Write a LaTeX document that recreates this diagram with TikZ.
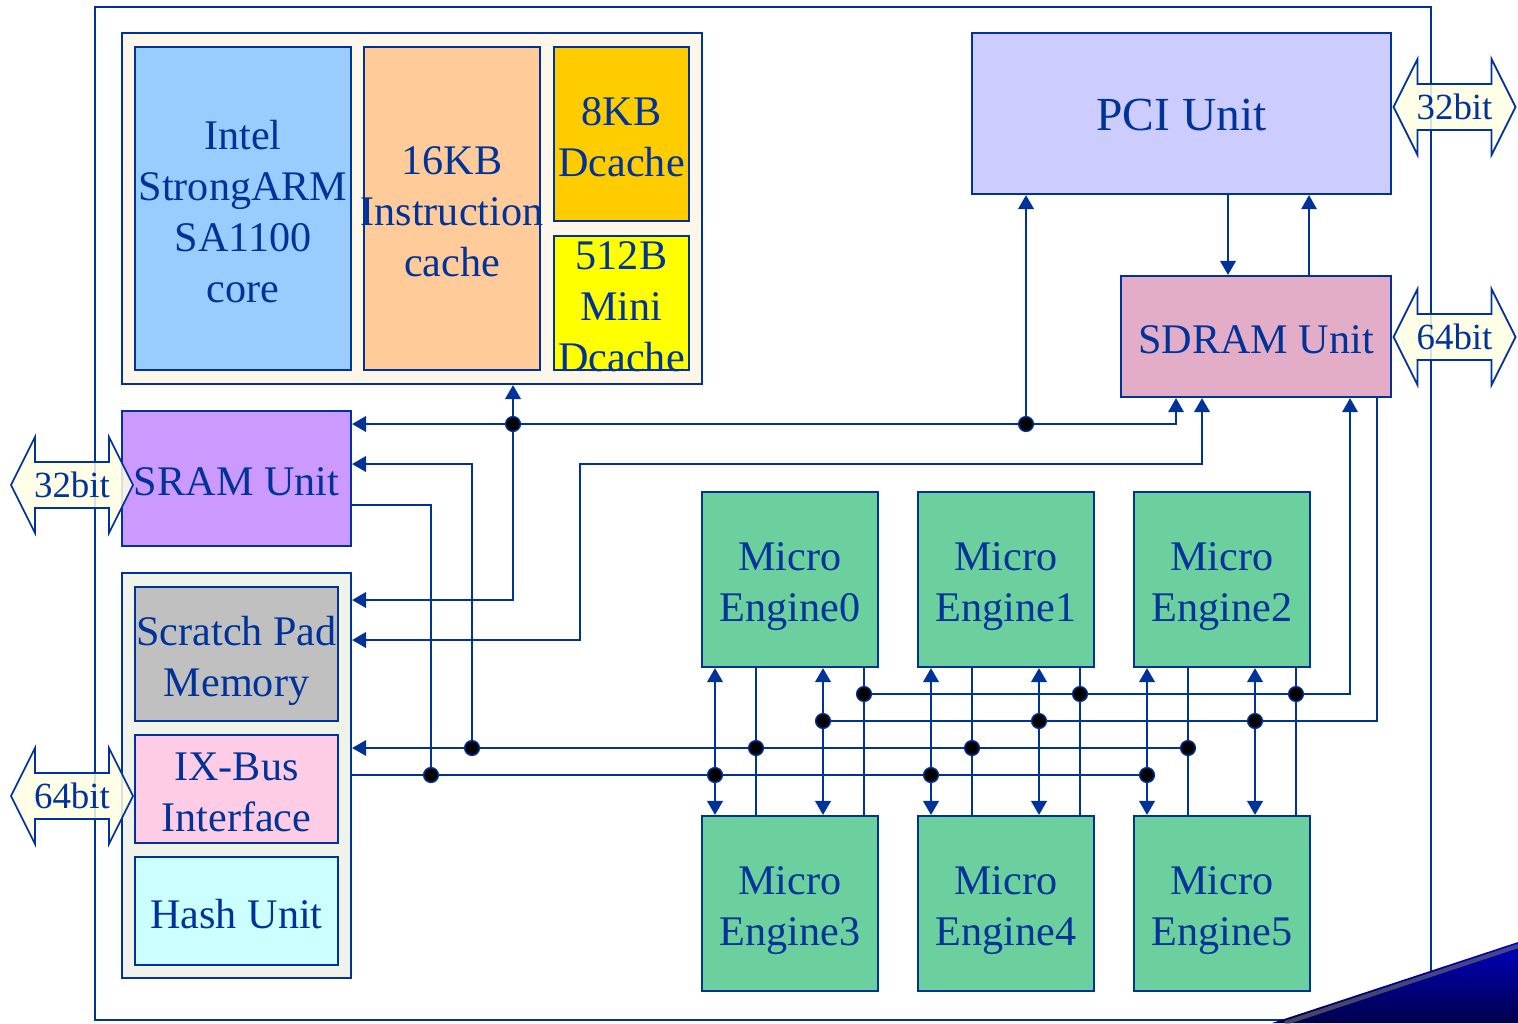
\documentclass[tikz,border=0pt]{standalone}
\usepackage{xcolor}
\usepackage{fontspec}
\setmainfont{Liberation Serif}
\usepackage{tikz}
\usetikzlibrary{arrows.meta}

\definecolor{ixpblue}{RGB}{0,51,153}
\definecolor{corebg}{RGB}{255,246,234}
\definecolor{armcol}{RGB}{153,204,255}
\definecolor{icachecol}{RGB}{255,204,153}
\definecolor{dcachecol}{RGB}{255,204,0}
\definecolor{minicol}{RGB}{255,255,0}
\definecolor{pcicol}{RGB}{204,204,255}
\definecolor{sdramcol}{RGB}{227,172,199}
\definecolor{sramcol}{RGB}{204,153,255}
\definecolor{lowbg}{RGB}{240,243,234}
\definecolor{scratchcol}{RGB}{192,192,192}
\definecolor{ixcol}{RGB}{255,204,230}
\definecolor{hashcol}{RGB}{204,255,255}
\definecolor{mecol}{RGB}{108,207,158}
\definecolor{arrowcol}{RGB}{255,255,228}

\newcommand{\firstline}[1]{\rule{0pt}{#1}}

\begin{document}
\begin{tikzpicture}[x=0.1mm, y=-0.1mm,
    >={Triangle[length=4pt,width=4.4pt]},
    unit/.style={draw=ixpblue, line width=0.6pt, inner sep=0pt, align=center,
        text=ixpblue, font=\fontsize{12}{14.5}\selectfont,
        execute at begin node={\rule{0pt}{9.8pt}}},
    data/.style={draw=ixpblue, line width=0.75pt},
    ctrl/.style={draw=ixpblue, line width=0.45pt},
    bus/.style={draw=ixpblue, line width=0.55pt},
    junction/.style={fill=black, draw=ixpblue, line width=0.4pt},
    widearrow/.style={draw=ixpblue, line width=0.5pt, fill=arrowcol, fill opacity=0.85},
    bitlabel/.style={text=ixpblue, font=\fontsize{10.5}{12}\selectfont}]
    \useasboundingbox (0,0) rectangle (1518,1023);
    \draw[ixpblue, line width=0.45pt] (95,7) rectangle (1431,1020);

    % StrongARM core with its caches
    \node[unit, fill=corebg, minimum width=5.80cm, minimum height=3.51cm] (cpu) at (412,208.5) {};
    \node[unit, fill=armcol, minimum width=2.16cm, minimum height=3.23cm] (arm) at (243,208.5)
        {\firstline{9.9pt}Intel\\StrongARM\\SA1100\\core};
    \node[unit, fill=icachecol, minimum width=1.76cm, minimum height=3.23cm, inner xsep=-4pt] (icache)
        at (452,208.5) {\firstline{9.9pt}16KB\\Instruction\\cache};
    \node[unit, fill=dcachecol, minimum width=1.35cm, minimum height=1.74cm] (dcache) at (621.5,134)
        {\firstline{9.6pt}8KB\\Dcache};
    \node[unit, fill=minicol, minimum width=1.35cm, minimum height=1.34cm, inner ysep=-8pt] (minid)
        at (621.5,303) {\firstline{9.9pt}512B\\Mini\\Dcache};

    \node[unit, fill=pcicol, minimum width=4.19cm, minimum height=1.61cm,
        font=\fontsize{13.5}{16}\selectfont] (pci) at (1181.5,113.5) {PCI Unit};
    \node[unit, fill=sdramcol, minimum width=2.70cm, minimum height=1.21cm] (sdram) at (1256,336.5)
        {SDRAM Unit};
    \node[unit, fill=sramcol, minimum width=2.29cm, minimum height=1.35cm] (sram) at (236.5,478.5)
        {SRAM Unit};

    % scratch pad, IX-bus and hash unit
    \node[unit, fill=lowbg, minimum width=2.29cm, minimum height=4.05cm] (lowbox) at (236.5,775.5) {};
    \node[unit, fill=scratchcol, minimum width=2.03cm, minimum height=1.34cm] (scratch) at (236.5,654)
        {\firstline{12pt}Scratch Pad\\Memory};
    \node[unit, fill=ixcol, minimum width=2.03cm, minimum height=1.08cm] (ixbus) at (236.5,789)
        {\firstline{9.9pt}IX-Bus\\Interface};
    \node[unit, fill=hashcol, minimum width=2.03cm, minimum height=1.08cm] (hash) at (236.5,911)
        {Hash Unit};

    % micro engines
    \foreach \n/\cx/\cy in {0/790/579.5,1/1006/579.5,2/1222/579.5,3/790/903.5,4/1006/903.5,5/1222/903.5}
        \node[unit, fill=mecol, minimum width=1.76cm, minimum height=1.75cm] (me\n) at (\cx,\cy)
            {\firstline{12.2pt}Micro\\Engine\n};

    \coordinate (jA) at (513,424);
    \coordinate (jB) at (1026,424);
    \coordinate (jC) at (472,748);
    \coordinate (jD) at (431,775);

    % SRAM / PCI / SDRAM paths
    \draw[data,->] (jA) -- (sram.east |- jA);
    \draw[data,->] (jA) -- (jA |- cpu.south);
    \draw[data,->] (jA) |- (lowbox.east |- 0,600);
    \draw[bus] (jA) -- (jB);
    \draw[bus,->] (jB) -| (1176,0 |- sdram.south);
    \draw[data,->] (jB) -- (jB |- pci.south);
    \draw[data,->] (jC) |- (sram.east |- 0,464);
    \draw[ctrl] (sram.east |- 0,505) -| (jD);
    \draw[data,<->] (lowbox.east |- 0,640) -| (580,464) -| (1202,0 |- sdram.south);
    \draw[data,->] (1228,0 |- pci.south) -- (1228,0 |- sdram.north);
    \draw[ctrl,->] (1309,0 |- sdram.north) -- (1309,0 |- pci.south);

    % engine buses
    \draw[bus] (lowbox.east |- jD) -- (1148,775);
    \draw[bus,->] (1188,748) -- (lowbox.east |- jC);
    \draw[bus] (823,721) -| (1377,0 |- sdram.south);
    \draw[bus,->] (864,694) -| (1350,0 |- sdram.south);
    \foreach \t/\b/\x in {me0/me3/702,me1/me4/918,me2/me5/1134}{
        \draw[data,<->] ({\x+13},0 |- \t.south) -- ({\x+13},0 |- \b.north);
        \draw[ctrl] ({\x+54},0 |- \t.south) -- ({\x+54},0 |- \b.north);
        \draw[data,<->] ({\x+121},0 |- \t.south) -- ({\x+121},0 |- \b.north);
        \draw[ctrl] ({\x+162},0 |- \t.south) -- ({\x+162},0 |- \b.north);
    }

    % junction dots
    \foreach \x in {702,918,1134}
        \foreach \dx/\y in {13/775,54/748,121/721,162/694}
            \fill[junction] ({\x+\dx},\y) circle (2.1pt);
    \foreach \j in {jA,jB,jC,jD}
        \fill[junction] (\j) circle (2.1pt);

    % external bus widths
    \foreach \cx/\cy/\w/\nm in {72/485/32/sramio,72/796/64/ixio,1454.5/107/32/pciio,1454.5/337/64/sdramio}{
        \draw[widearrow] (\cx-61,\cy) -- (\cx-37,\cy-48) -- (\cx-37,\cy-23) -- (\cx+37,\cy-23)
            -- (\cx+37,\cy-48) -- (\cx+61,\cy) -- (\cx+37,\cy+48) -- (\cx+37,\cy+23)
            -- (\cx-37,\cy+23) -- (\cx-37,\cy+48) -- cycle;
        \node[bitlabel] (\nm) at (\cx,\cy) {\w bit};
    }

    % corner swoosh
    \shade[top color=blue!75!black, bottom color=blue!30!black] (1272,1023) -- (1518,942) -- (1518,1023) -- cycle;
    \draw[black!55, line width=1.2pt, opacity=0.6] (1285,1023) -- (1518,946);
\end{tikzpicture}
\end{document}
